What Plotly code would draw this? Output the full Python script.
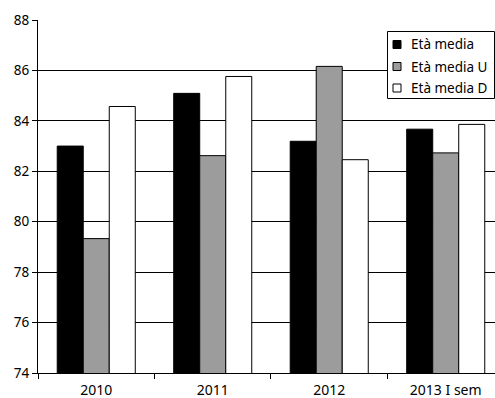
import plotly.graph_objects as go

categories = ["2010", "2011", "2012", "2013 I sem"]
eta_media = [83.0, 85.09, 83.19, 83.67]
eta_media_u = [79.33, 82.62, 86.16, 82.73]
eta_media_d = [84.57, 85.76, 82.46, 83.86]

series = [
    ("Età media", eta_media, "#000000"),
    ("Età media U", eta_media_u, "#9c9c9c"),
    ("Età media D", eta_media_d, "#ffffff"),
]

W, H = 495, 398
ML, MR, MT, MB = 38, 0, 20, 25
PW, PH = W - ML - MR, H - MT - MB


def px_x(x):
    return (x - ML) / PW


def px_y(y):
    return (H - MB - y) / PH


fig = go.Figure()
for name, vals, color in series:
    fig.add_trace(go.Bar(
        x=categories, y=vals, name=name, showlegend=False,
        marker=dict(color=color, line=dict(color="#000000", width=1)),
    ))

font = dict(family="Noto Sans", color="#000000")

# boxed legend in the upper right corner
shapes = [dict(
    type="rect", xref="paper", yref="paper",
    x0=px_x(387.5), x1=px_x(494.5), y0=px_y(98.5), y1=px_y(31.5),
    line=dict(color="#000000", width=1), fillcolor="white", layer="above",
)]
annotations = []
row_y = [44.5, 66.5, 88.0]
for (name, _, color), ry in zip(series, row_y):
    shapes.append(dict(
        type="rect", xref="paper", yref="paper",
        x0=px_x(393), x1=px_x(401), y0=px_y(ry + 4), y1=px_y(ry - 4),
        line=dict(color="#000000", width=1), fillcolor=color, layer="above",
    ))
    annotations.append(dict(
        xref="paper", yref="paper", x=px_x(409), y=px_y(ry),
        xanchor="left", yanchor="middle", text=name, showarrow=False,
        font=dict(size=13.5, **font),
    ))

fig.update_layout(
    width=W, height=H,
    margin=dict(l=ML, r=MR, t=MT, b=MB, autoexpand=False),
    paper_bgcolor="white", plot_bgcolor="white",
    barmode="group", bargap=0.33, bargroupgap=0,
    showlegend=False,
    shapes=shapes, annotations=annotations,
    font=font,
)
fig.update_xaxes(
    type="category", range=[-0.5, 3.423],
    showline=True, linecolor="#000000", linewidth=1,
    ticks="outside", tickson="boundaries", ticklen=5, tickcolor="#000000",
    showgrid=False, tickfont=dict(size=14, **font), ticklabelstandoff=4,
)
fig.update_yaxes(
    range=[74, 88], dtick=2,
    showline=True, linecolor="#000000", linewidth=1,
    ticks="outside", ticklen=5, tickcolor="#000000",
    showgrid=True, gridcolor="#000000", gridwidth=1,
    tickfont=dict(size=13.5, **font), zeroline=False,
)

fig.write_html("out.html")
